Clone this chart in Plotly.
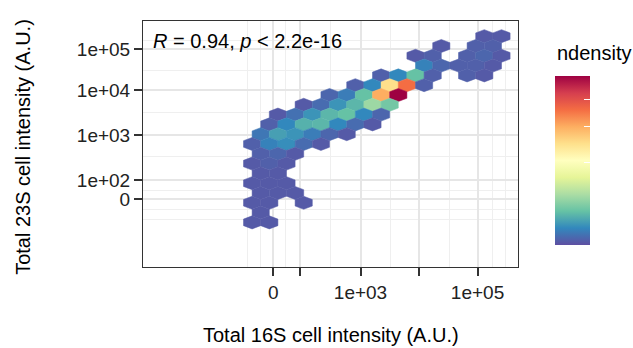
import plotly.graph_objects as go
from plotly.colors import sample_colorscale

# ---------------- data ----------------
# hexbin cells: lattice row, lattice column, normalised density (ndensity)
hex_row = [6, 6,
           5, 5, 5,
           4, 4, 4, 4, 4,
           3, 3, 3, 3, 3,
           2, 2, 2, 2, 2, 2,
           1, 1, 1, 1, 1,
           0, 0, 0, 0, 0,
           -1, -1, -1, -1, -1, -1,
           -2, -2, -2, -2, -2, -2, -2,
           -3, -3, -3, -3, -3, -3, -3,
           -4, -4, -4, -4, -4, -4,
           -5, -5, -5, -5, -5,
           -6, -6, -6,
           -7, -7, -7,
           -8, -8,
           -9, -9, -9,
           -10, -10, -10,
           -11, -11, -11,
           -12,
           -13, -13]
hex_col = [5, 6,
           2, 4, 5,
           1, 2, 4, 5, 6,
           1, 2, 3, 4, 5,
           -1, 0, 1, 2, 4, 5,
           -3, -2, -1, 0, 1,
           -4, -3, -2, -1, 0,
           -6, -5, -4, -3, -2, -1,
           -7, -6, -5, -4, -3, -2, -1,
           -8, -7, -6, -5, -4, -3, -2,
           -8, -7, -6, -5, -4, -3,
           -9, -8, -7, -6, -5,
           -8, -7, -6,
           -9, -8, -7,
           -8, -7,
           -9, -8, -7,
           -8, -7, -6,
           -9, -8, -6,
           -8,
           -9, -8]
hex_density = [0.02, 0.02,
               0.02, 0.03, 0.03,
               0.02, 0.03, 0.03, 0.04, 0.02,
               0.09, 0.04, 0.03, 0.03, 0.02,
               0.03, 0.10, 0.20, 0.03, 0.03, 0.02,
               0.03, 0.10, 0.60, 0.80, 0.03,
               0.04, 0.08, 0.20, 0.70, 1.00,
               0.02, 0.05, 0.12, 0.18, 0.28, 0.22,
               0.02, 0.06, 0.12, 0.18, 0.20, 0.10, 0.04,
               0.03, 0.10, 0.17, 0.18, 0.10, 0.05, 0.02,
               0.07, 0.14, 0.12, 0.08, 0.04, 0.02,
               0.03, 0.09, 0.11, 0.05, 0.02,
               0.03, 0.04, 0.02,
               0.02, 0.03, 0.02,
               0.02, 0.02,
               0.02, 0.02, 0.02,
               0.02, 0.02, 0.02,
               0.02, 0.02, 0.02,
               0.02,
               0.02, 0.02]

# hexbin grid (transformed axis units)
bin_x0, bin_y0 = 3.646, 3.947
bin_w, bin_h = 0.294, 0.2244

# axis breaks (transformed units) and labels
x_tickvals = [1.51, 1.96, 3.0, 4.0, 5.0]
x_ticktext = ["0", "", "1e+03", "", "1e+05"]
x_minor = [1.065, 1.282, 1.726, 2.479, 3.521, 4.513, 5.248, 5.470]
y_tickvals = [1.558, 2.0, 3.031, 4.05, 5.0]
y_ticktext = ["0", "1e+02", "1e+03", "1e+04", "1e+05"]
y_minor = [1.10, 1.336, 1.771, 2.527, 3.541, 4.519, 5.206]

spectral = ["#5e4fa2", "#3288bd", "#66c2a5", "#abdda4", "#e6f598", "#ffffbf",
            "#fee08b", "#fdae61", "#f46d43", "#d53e4f", "#9e0142"]
colorscale = [[i / 10, c] for i, c in enumerate(spectral)]

FONT = "Liberation Sans, Arial, Helvetica, sans-serif"

fig = go.Figure()
R = bin_h / 1.5
for k, n, d in zip(hex_row, hex_col, hex_density):
    cx = bin_x0 + bin_w * (n + 0.5 * (k % 2))
    cy = bin_y0 + bin_h * k
    xs = [cx, cx + bin_w / 2, cx + bin_w / 2, cx, cx - bin_w / 2, cx - bin_w / 2, cx]
    ys = [cy + R, cy + R / 2, cy - R / 2, cy - R, cy - R / 2, cy + R / 2, cy + R]
    col = sample_colorscale(colorscale, [d])[0]
    fig.add_trace(go.Scatter(x=xs, y=ys, mode="lines", fill="toself", fillcolor=col,
                             line=dict(color=col, width=0.5), hoverinfo="skip",
                             showlegend=False))

# colour bar carrier
fig.add_trace(go.Scatter(
    x=[None], y=[None], mode="markers", showlegend=False, hoverinfo="skip",
    marker=dict(color=[0], cmin=0, cmax=1, colorscale=colorscale, showscale=True,
                colorbar=dict(x=1.0987, xanchor="left", xpad=0, ypad=0,
                              y=0.4329, yanchor="middle", lenmode="pixels", len=169,
                              thickness=35, outlinewidth=0,
                              tickmode="array", tickvals=[0.49, 0.70, 0.86, 1.0],
                              ticks="inside", ticklen=6, tickcolor="white",
                              showticklabels=False))))

axis_common = dict(showline=True, linecolor="#333333", linewidth=1, mirror=True,
                   ticks="outside", ticklen=8, tickwidth=1.5, tickcolor="#333333",
                   gridcolor="#e6e6e6", gridwidth=1.6, zeroline=False,
                   tickfont=dict(family=FONT, size=19, color="#222222"),
                   tickmode="array")
fig.update_xaxes(range=[-0.718, 5.692], tickvals=x_tickvals, ticktext=x_ticktext,
                 minor=dict(tickmode="array", tickvals=x_minor, showgrid=True,
                            gridcolor="#efefef", gridwidth=1, ticks=""),
                 **axis_common)
fig.update_yaxes(range=[0.008, 5.641], tickvals=y_tickvals, ticktext=y_ticktext,
                 minor=dict(tickmode="array", tickvals=y_minor, showgrid=True,
                            gridcolor="#efefef", gridwidth=1, ticks=""),
                 **axis_common)

fig.add_annotation(x=0.02, y=0.92, xref="paper", yref="paper", xanchor="left",
                   yanchor="middle", showarrow=False,
                   text="<i>R</i> = 0.94, <i>p</i> &lt; 2.2e-16",
                   font=dict(family=FONT, size=20, color="black"))
fig.add_annotation(x=0.5, y=-0.275, xref="paper", yref="paper", xanchor="center",
                   yanchor="middle", showarrow=False,
                   text="Total 16S cell intensity (A.U.)",
                   font=dict(family=FONT, size=20, color="black"))
fig.add_annotation(x=-0.319, y=0.49, xref="paper", yref="paper", xanchor="center",
                   yanchor="middle", showarrow=False, textangle=-90,
                   text="Total 23S cell intensity (A.U.)",
                   font=dict(family=FONT, size=20, color="black"))
fig.add_annotation(x=1.0987, y=0.868, xref="paper", yref="paper", xanchor="left",
                   yanchor="middle", showarrow=False, text="ndensity",
                   font=dict(family=FONT, size=20, color="black"))

fig.update_layout(width=633, height=348, margin=dict(l=143, r=115, t=21, b=81),
                  paper_bgcolor="white", plot_bgcolor="white")
fig.write_html("out.html")
